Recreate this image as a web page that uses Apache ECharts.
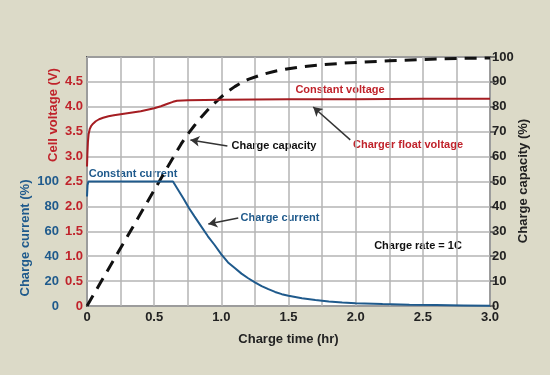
<!DOCTYPE html>
<html>
<head>
<meta charset="utf-8">
<script src="https://cdn.jsdelivr.net/npm/echarts@6/dist/echarts.min.js"></script>
<style>
html,body{margin:0;padding:0;background:#dcdac8;}
#c{width:550px;height:375px;}
</style>
</head>
<body>
<div id="c"></div>
<script>
// Data (hours, value)
const timeTicks = [0, 0.5, 1.0, 1.5, 2.0, 2.5, 3.0];
const voltageTicks = [0, 0.5, 1.0, 1.5, 2.0, 2.5, 3.0, 3.5, 4.0, 4.5];
const currentTicks = [0, 20, 40, 60, 80, 100];
const capacityTicks = [0, 10, 20, 30, 40, 50, 60, 70, 80, 90, 100];

const cellVoltage = [
  [0, 2.8], [0.003, 3.05], [0.007, 3.3], [0.012, 3.45], [0.02, 3.55], [0.03, 3.61],
  [0.045, 3.66], [0.065, 3.71], [0.09, 3.75], [0.12, 3.78], [0.16, 3.81], [0.2, 3.83],
  [0.25, 3.85], [0.3, 3.87], [0.35, 3.89], [0.4, 3.91], [0.45, 3.94], [0.5, 3.97],
  [0.55, 4.01], [0.6, 4.06], [0.64, 4.1], [0.67, 4.12], [0.75, 4.13], [1.0, 4.14],
  [1.5, 4.15], [2.0, 4.15], [2.5, 4.16], [3.0, 4.16]
];
const chargeCurrent = [
  [0, 88], [0.004, 97], [0.01, 100], [0.64, 100], [0.68, 93], [0.72, 86], [0.76, 78.5],
  [0.8, 72], [0.85, 64], [0.9, 56], [0.95, 49], [1.0, 41.5], [1.05, 35], [1.1, 30.5],
  [1.15, 26], [1.2, 22.3], [1.25, 19], [1.3, 16], [1.35, 13.5], [1.4, 11.3], [1.45, 9.5],
  [1.5, 8.2], [1.6, 6.2], [1.7, 4.8], [1.8, 3.7], [1.9, 2.9], [2.0, 2.3], [2.2, 1.6],
  [2.4, 1.1], [2.6, 0.8], [2.8, 0.5], [3.0, 0.2]
];
const chargeCapacity = [
  [0, 0], [0.1, 9.3], [0.2, 18.6], [0.3, 27.9], [0.4, 37.2], [0.5, 46.5], [0.6, 55.8],
  [0.7, 65], [0.75, 69], [0.8, 72.5], [0.85, 75.8], [0.9, 78.8], [0.95, 81.5], [1.0, 84],
  [1.05, 86.2], [1.1, 88.1], [1.15, 89.7], [1.2, 91], [1.3, 92.9], [1.4, 94.3], [1.5, 95.3],
  [1.6, 96.1], [1.75, 96.9], [1.9, 97.5], [2.0, 97.8], [2.25, 98.5], [2.5, 99], [2.75, 99.4],
  [3.0, 99.6]
];

const RED = '#a51d22', RED_T = '#c0232b', BLUE = '#1f5a8c', BLUE_T = '#1f5a8c';
const FONT = 'Liberation Sans, Arial, sans-serif';

const chart = echarts.init(document.getElementById('c'));
const fmt1 = v => v === 0 ? '0' : v.toFixed(1);
const isTick = (arr, v) => arr.some(t => Math.abs(t - v) < 1e-6);
const arrowStyle = {color: '#333', width: 1.5, type: 'solid'};

chart.setOption({
  backgroundColor: '#dcdac8',
  animation: false,
  grid: {left: 87, right: 60, top: 57, bottom: 69, show: true, backgroundColor: '#ffffff',
         borderColor: '#555', borderWidth: 2},
  xAxis: {
    type: 'value', min: 0, max: 3, interval: 0.25,
    axisLine: {show: false}, axisTick: {show: false},
    splitLine: {show: true, lineStyle: {color: '#b4b4b4', width: 1.5}},
    axisLabel: {color: '#222', fontWeight: 'bold', fontSize: 13, fontFamily: FONT, margin: 5,
      formatter: v => isTick(timeTicks, v) ? fmt1(v) : ''},
    name: 'Charge time (hr)', nameLocation: 'middle', nameGap: 27,
    nameTextStyle: {color: '#222', fontWeight: 'bold', fontSize: 13, fontFamily: FONT}
  },
  yAxis: [
    {
      type: 'value', min: 0, max: 5, interval: 0.5, position: 'left',
      axisLine: {show: false}, axisTick: {show: false},
      splitLine: {show: true, lineStyle: {color: '#b4b4b4', width: 1.5}},
      axisLabel: {color: RED_T, fontWeight: 'bold', fontSize: 13, fontFamily: FONT, margin: 4,
        formatter: v => isTick(voltageTicks, v) ? fmt1(v) : ''}
    },
    {
      type: 'value', min: 0, max: 200, interval: 20, position: 'left', offset: 27,
      axisLine: {show: false}, axisTick: {show: false}, splitLine: {show: false},
      axisLabel: {color: BLUE_T, fontWeight: 'bold', fontSize: 13, fontFamily: FONT, margin: 1,
        formatter: v => isTick(currentTicks, v) ? String(v) : ''}
    },
    {
      type: 'value', min: 0, max: 100, interval: 10, position: 'right',
      axisLine: {show: false},
      axisTick: {show: true, length: 5, lineStyle: {color: '#555', width: 1.5}},
      splitLine: {show: false},
      axisLabel: {color: '#222', fontWeight: 'bold', fontSize: 13, fontFamily: FONT, margin: 2,
        formatter: v => isTick(capacityTicks, v) ? String(v) : ''}
    }
  ],
  series: [
    {
      name: 'Charge capacity', type: 'line', yAxisIndex: 2, data: chargeCapacity,
      showSymbol: false,
      lineStyle: {color: '#111', width: 3, type: [12, 8]},
      markLine: {
        silent: true, symbol: ['none', 'arrow'], symbolSize: [8, 9],
        label: {show: false}, lineStyle: arrowStyle,
        data: [
          [{coord: [1.045, 64.3]}, {coord: [0.77, 66.7]}],
          [{coord: [1.96, 66.7]}, {coord: [1.684, 79.9]}],
          [{coord: [1.126, 35.3]}, {coord: [0.903, 32.9]}]
        ]
      }
    },
    {
      name: 'Cell voltage', type: 'line', yAxisIndex: 0, data: cellVoltage,
      showSymbol: false,
      lineStyle: {color: RED, width: 2}
    },
    {
      name: 'Charge current', type: 'line', yAxisIndex: 1, data: chargeCurrent,
      showSymbol: false,
      lineStyle: {color: BLUE, width: 2}
    }
  ],
  graphic: [
    {type: 'text', x: 53, y: 115, rotation: Math.PI / 2,
     style: {text: 'Cell voltage (V)', fill: RED_T, font: 'bold 13px ' + FONT, align: 'center', verticalAlign: 'middle'}},
    {type: 'text', x: 25, y: 238, rotation: Math.PI / 2,
     style: {text: 'Charge current (%)', fill: BLUE_T, font: 'bold 13px ' + FONT, align: 'center', verticalAlign: 'middle'}},
    {type: 'text', x: 523, y: 181, rotation: Math.PI / 2,
     style: {text: 'Charge capacity (%)', fill: '#222', font: 'bold 13px ' + FONT, align: 'center', verticalAlign: 'middle'}},
    {type: 'text', x: 340, y: 90,
     style: {text: 'Constant voltage', fill: RED_T, font: 'bold 11px ' + FONT, align: 'center', verticalAlign: 'middle'}},
    {type: 'text', x: 133, y: 174,
     style: {text: 'Constant current', fill: BLUE_T, font: 'bold 11px ' + FONT, align: 'center', verticalAlign: 'middle'}},
    {type: 'text', x: 274, y: 146,
     style: {text: 'Charge capacity', fill: '#111', font: 'bold 11px ' + FONT, align: 'center', verticalAlign: 'middle'}},
    {type: 'text', x: 408, y: 145,
     style: {text: 'Charger float voltage', fill: RED_T, font: 'bold 11px ' + FONT, align: 'center', verticalAlign: 'middle'}},
    {type: 'text', x: 280, y: 218,
     style: {text: 'Charge current', fill: BLUE_T, font: 'bold 11px ' + FONT, align: 'center', verticalAlign: 'middle'}},
    {type: 'text', x: 418, y: 246,
     style: {text: 'Charge rate = 1C', fill: '#111', font: 'bold 11px ' + FONT, align: 'center', verticalAlign: 'middle'}}
  ]
});
</script>
</body>
</html>
